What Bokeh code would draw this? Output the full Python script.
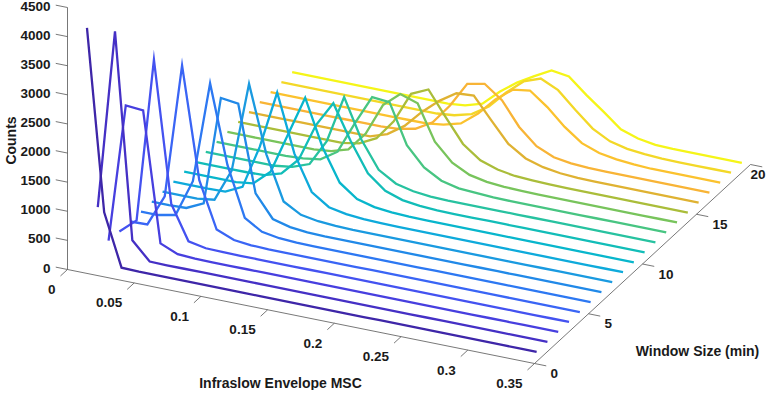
import math
from bokeh.plotting import figure
from bokeh.models import Range1d
from bokeh.core.properties import value
from bokeh.embed import file_html
from bokeh.resources import INLINE

# ---------------- data ----------------
msc_bins = [0.0065, 0.0194, 0.0324, 0.0454, 0.0583, 0.0713, 0.0843, 0.0972, 0.1102,
            0.1231, 0.1361, 0.1491, 0.1620, 0.1750, 0.1880, 0.2009, 0.2139, 0.2269,
            0.2398, 0.2528, 0.2657, 0.2787, 0.2917, 0.3046, 0.3176, 0.3306, 0.3435]

window_sizes = [1, 2, 3, 4, 5, 6, 7, 8, 9, 10, 11, 12, 13, 14, 15, 16, 17, 18, 19, 20]

w01 = [4010, 900, 10, 0, 0, 0, 0, 0, 0, 0, 0, 0, 0, 0, 0, 0, 0, 0, 0, 0, 0, 0, 0, 0, 0, 0, 0]
w02 = [760, 3840, 310, 5, 0, 0, 0, 0, 0, 0, 0, 0, 0, 0, 0, 0, 0, 0, 0, 0, 0, 0, 0, 0, 0, 0, 0]
w03 = [15, 2395, 2370, 145, 20, 5, 0, 0, 0, 0, 0, 0, 0, 0, 0, 0, 0, 0, 0, 0, 0, 0, 0, 0, 0, 0, 0]
w04 = [0, 250, 3070, 650, 70, 10, 5, 0, 0, 0, 0, 0, 0, 0, 0, 0, 0, 0, 0, 0, 0, 0, 0, 0, 0, 0, 0]
w05 = [0, 10, 550, 2860, 950, 160, 40, 10, 0, 0, 0, 0, 0, 0, 0, 0, 0, 0, 0, 0, 0, 0, 0, 0, 0, 0, 0]
w06 = [0, 0, 60, 700, 2440, 1100, 250, 70, 20, 5, 0, 0, 0, 0, 0, 0, 0, 0, 0, 0, 0, 0, 0, 0, 0, 0, 0]
w07 = [0, 0, 10, 150, 2020, 1980, 500, 120, 40, 10, 0, 0, 0, 0, 0, 0, 0, 0, 0, 0, 0, 0, 0, 0, 0, 0, 0]
w08 = [0, 0, 0, 40, 600, 2150, 1000, 250, 80, 30, 10, 0, 0, 0, 0, 0, 0, 0, 0, 0, 0, 0, 0, 0, 0, 0, 0]
w09 = [0, 0, 0, 10, 150, 900, 1890, 900, 300, 100, 40, 15, 5, 0, 0, 0, 0, 0, 0, 0, 0, 0, 0, 0, 0, 0, 0]
w10 = [0, 0, 0, 0, 40, 300, 1000, 1690, 900, 350, 130, 50, 20, 5, 0, 0, 0, 0, 0, 0, 0, 0, 0, 0, 0, 0, 0]
w11 = [0, 0, 0, 0, 10, 100, 400, 1050, 1485, 900, 400, 160, 60, 20, 5, 0, 0, 0, 0, 0, 0, 0, 0, 0, 0, 0, 0]
w12 = [0, 0, 0, 0, 0, 40, 150, 600, 1418, 750, 290, 110, 40, 10, 0, 0, 0, 0, 0, 0, 0, 0, 0, 0, 0, 0, 0]
w13 = [0, 0, 0, 0, 0, 15, 60, 250, 800, 1306, 1280, 600, 280, 110, 40, 20, 5, 0, 0, 0, 0, 0, 0, 0, 0, 0, 0]
w14 = [0, 0, 0, 0, 0, 0, 30, 120, 450, 1000, 1250, 1150, 550, 250, 100, 40, 15, 5, 0, 0, 0, 0, 0, 0, 0, 0, 0]
w15 = [0, 0, 0, 0, 0, 0, 0, 50, 200, 550, 1082, 1216, 800, 400, 180, 80, 30, 14, 5, 0, 0, 0, 0, 0, 0, 0, 0]
w16 = [0, 0, 0, 0, 0, 0, 0, 0, 100, 300, 600, 850, 1040, 1060, 700, 350, 160, 70, 25, 5, 0, 0, 0, 0, 0, 0, 0]
w17 = [0, 0, 0, 0, 0, 0, 0, 0, 20, 80, 250, 600, 1032, 1092, 870, 470, 200, 70, 25, 5, 0, 0, 0, 0, 0, 0, 0]
w18 = [0, 0, 0, 0, 0, 0, 0, 0, 0, 0, 40, 120, 350, 650, 880, 925, 700, 420, 200, 90, 40, 15, 0, 0, 0, 0, 0]
w19 = [0, 0, 0, 0, 0, 0, 0, 0, 0, 0, 30, 110, 300, 600, 850, 960, 820, 540, 280, 120, 50, 20, 5, 0, 0, 0, 0]
w20 = [0, 0, 0, 0, 0, 0, 0, 0, 0, 0, 30, 117, 381, 600, 770, 927, 885, 629, 399, 155, 57, 10, 0, 0, 0, 0, 0]

series = [w01, w02, w03, w04, w05, w06, w07, w08, w09, w10,
          w11, w12, w13, w14, w15, w16, w17, w18, w19, w20]

x_ticks = [0, 0.05, 0.1, 0.15, 0.2, 0.25, 0.3, 0.35]
x_tick_labels = ["0", "0.05", "0.1", "0.15", "0.2", "0.25", "0.3", "0.35"]
w_ticks = [0, 5, 10, 15, 20]
w_tick_labels = ["0", "5", "10", "15", "20"]
z_ticks = [0, 500, 1000, 1500, 2000, 2500, 3000, 3500, 4000, 4500]
z_tick_labels = ["0", "500", "1000", "1500", "2000", "2500", "3000", "3500", "4000", "4500"]

# line colours (parula, one per window size)
line_colors = ["#3e26a8", "#4530c5", "#473fdf", "#4452f0", "#3a65f5",
               "#2d78f2", "#2189e8", "#1a9ae0", "#0eaadb", "#08b6cc",
               "#12bdb8", "#27c2a0", "#48c582", "#78c45c", "#aabd3a",
               "#dfb232", "#f8b436", "#fbc22e", "#f3d827", "#f5f518"]

# ---------------- 3D view (orthographic projection) ----------------
OX, OY = 67.0, 269.0
AX, BX = 1334.3, 268.6      # screen shift per unit MSC
AW, BW = 10.8, -9.95        # screen shift per minute of window size
CZ = 0.05822                # screen shift per count


def proj(x, w, z):
    return OX + x * AX + w * AW, OY + x * BX + w * BW - z * CZ


p = figure(width=766, height=390, x_range=Range1d(0, 766), y_range=Range1d(390, 0),
           x_axis_type=None, y_axis_type=None, output_backend="svg",
           toolbar_location=None, min_border=0)
p.grid.visible = False
p.outline_line_color = None
p.background_fill_color = "white"

axis_col = "#555555"
txt_col = "#1a1a1a"
font = value("Liberation Sans")
tick_size = "13.5px"

# axis lines
for a, b in [((0, 0, 0), (0, 0, 4500)), ((0, 0, 0), (0.35, 0, 0)), ((0.35, 0, 0), (0.35, 20, 0))]:
    (x0, y0), (x1, y1) = proj(*a), proj(*b)
    p.line([x0, x1], [y0, y1], line_color=axis_col, line_width=0.8)

# z ticks
zx, zy, zl = [], [], []
for zt, lab in zip(z_ticks, z_tick_labels):
    x0, y0 = proj(0, 0, zt)
    x1, y1 = proj(-0.0088, 0, zt)
    p.line([x0, x1], [y0, y1], line_color=axis_col, line_width=0.8)
    zx.append(x0 - 17)
    zy.append(y0 - 1.5)
    zl.append(lab)
p.text(x=zx, y=zy, text=zl, text_font=font, text_font_style="bold", text_font_size=tick_size,
       text_align="right", text_baseline="middle", text_color=txt_col)

# x ticks
xx, xy, xl = [], [], []
for xt, lab in zip(x_ticks, x_tick_labels):
    x0, y0 = proj(xt, 0, 0)
    x1, y1 = proj(xt, -0.65, 0)
    p.line([x0, x1], [y0, y1], line_color=axis_col, line_width=0.8)
    xx.append(x0 - 12)
    xy.append(y0 + 20)
    xl.append(lab)
p.text(x=xx, y=xy, text=xl, text_font=font, text_font_style="bold", text_font_size=tick_size,
       text_align="right", text_baseline="middle", text_color=txt_col)

# window ticks
wx, wy, wl = [], [], []
for wt, lab in zip(w_ticks, w_tick_labels):
    x0, y0 = proj(0.35, wt, 0)
    x1, y1 = proj(0.3588, wt, 0)
    p.line([x0, x1], [y0, y1], line_color=axis_col, line_width=0.8)
    wx.append(min(x0 + 16, 750))
    wy.append(y0 + 10)
    wl.append(lab)
p.text(x=wx, y=wy, text=wl, text_font=font, text_font_style="bold", text_font_size=tick_size,
       text_align="left", text_baseline="middle", text_color=txt_col)

# histogram traces, back to front
n = len(series)
for i in range(n - 1, -1, -1):
    w = window_sizes[i]
    pts = [proj(x, w, z) for x, z in zip(msc_bins, series[i])]
    p.line([q[0] for q in pts], [q[1] for q in pts], line_color=line_colors[i],
           line_width=2.3, line_join="miter")

# axis titles
p.text(x=[280], y=[382], text=["Infraslow Envelope MSC"], text_font=font, text_font_style="bold",
       text_font_size="14px", text_align="center", text_baseline="middle", text_color=txt_col)
p.text(x=[697], y=[350], text=["Window Size (min)"], text_font=font, text_font_style="bold",
       text_font_size="14px", text_align="center", text_baseline="middle", text_color=txt_col)
p.text(x=[10], y=[140], text=["Counts"], angle=math.pi / 2, text_font=font, text_font_style="bold",
       text_font_size="14px", text_align="center", text_baseline="middle", text_color=txt_col)

open("out.html", "w").write(file_html(p, INLINE))
